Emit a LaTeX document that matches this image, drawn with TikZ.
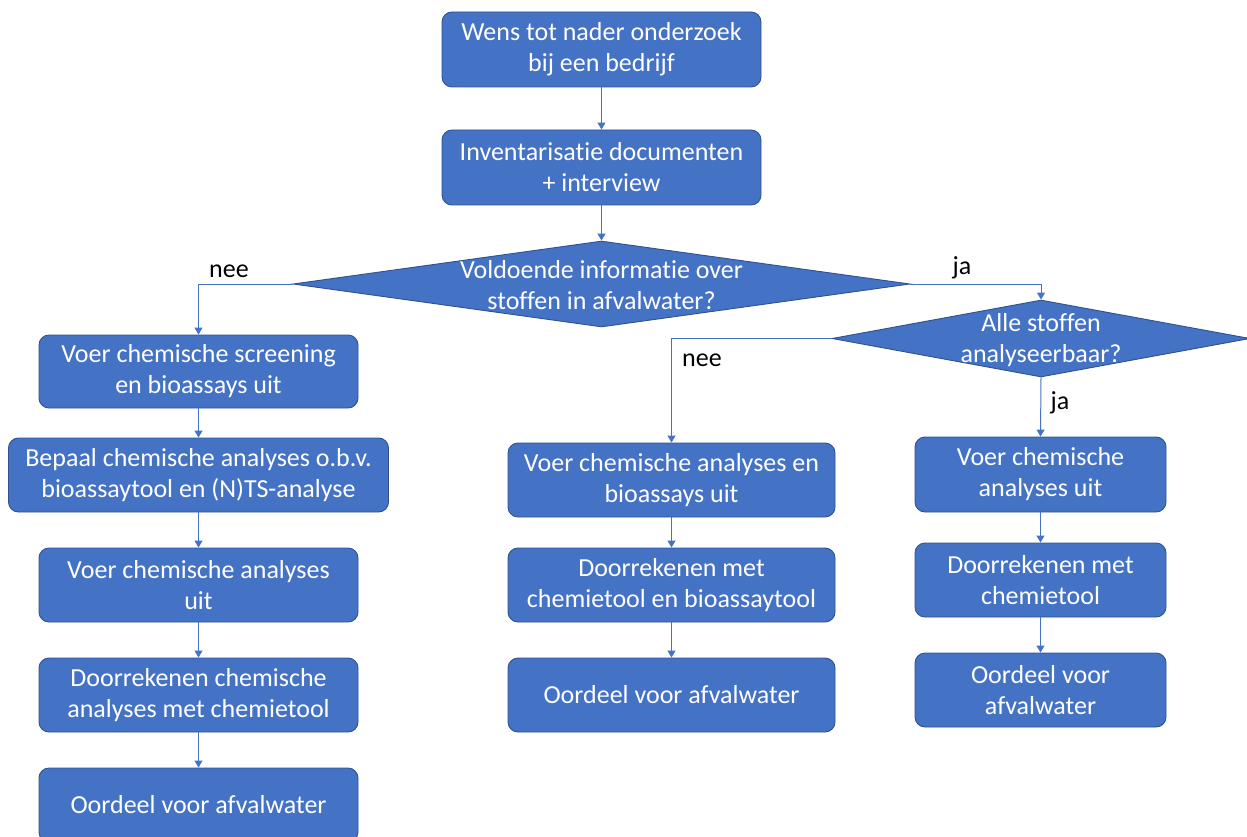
\documentclass[tikz,border=0pt]{standalone}
\usepackage{fontspec}
\setmainfont{Carlito}[Ligatures=NoCommon]
\usetikzlibrary{arrows.meta,shapes.geometric}
\definecolor{boxfill}{HTML}{4472C4}
\definecolor{boxline}{HTML}{2F528F}
\definecolor{conn}{HTML}{4472C4}
\begin{document}
\begin{tikzpicture}[x=1pt,y=-1pt,
  every node/.style={font=\fontsize{26}{31}\selectfont},
  stepbox/.style={draw=boxline, fill=boxfill, line width=0.9pt, rounded corners=10pt,
    text=white, align=center, inner sep=0pt, minimum height=74pt},
  decbox/.style={draw=boxline, fill=boxfill, line width=0.9pt, shape=diamond, inner sep=0pt},
  dectext/.style={text=white, align=center, inner sep=0pt},
  lbl/.style={text=black, inner sep=0pt},
  conn/.style={draw=conn, line width=1pt, -{Triangle[width=8pt,length=7pt]}}
]
\useasboundingbox (0,0) rectangle (1247,837);
% top
\node[stepbox, minimum width=319pt, minimum height=75pt] (b1) at (601.5,49.5) {Wens tot nader onderzoek\\bij een bedrijf};
\node[stepbox, minimum width=319pt, minimum height=75pt] (b2) at (601.5,167.5) {Inventarisatie documenten\\+ interview};
% decision 1
\node[decbox, minimum width=617pt, minimum height=86pt] (d1) at (601.5,284) {};
\node[dectext] (d1t) at (601.5,285) {Voldoende informatie over\\stoffen in afvalwater?};
% decision 2
\node[decbox, minimum width=418pt, minimum height=77pt] (d2) at (1041,338.5) {};
\node[dectext] (d2t) at (1041,340) {Alle stoffen\\analyseerbaar?};
% left column
\node[stepbox, minimum width=319pt, minimum height=73pt] (l1) at (198.5,371.5) {Voer chemische screening\\en bioassays uit};
\node[stepbox, minimum width=380pt] (l2) at (198.5,475) {Bepaal chemische analyses o.b.v.\\bioassaytool en (N)TS-analyse};
\node[stepbox, minimum width=319pt] (l3) at (198.5,585) {Voer chemische analyses\\uit};
\node[stepbox, minimum width=319pt] (l4) at (198.5,695) {Doorrekenen chemische\\analyses met chemietool};
\node[stepbox, minimum width=319pt] (l5) at (198.5,805) {Oordeel voor afvalwater};
% middle column
\node[stepbox, minimum width=327pt] (m1) at (671.5,480) {Voer chemische analyses en\\bioassays uit};
\node[stepbox, minimum width=327pt] (m2) at (671.5,585) {Doorrekenen met\\chemietool en bioassaytool};
\node[stepbox, minimum width=327pt] (m3) at (671.5,695) {Oordeel voor afvalwater};
% right column
\node[stepbox, minimum width=251pt, minimum height=75pt] (r1) at (1040.5,474.5) {Voer chemische\\analyses uit};
\node[stepbox, minimum width=251pt] (r2) at (1040.5,580) {Doorrekenen met\\chemietool};
\node[stepbox, minimum width=251pt] (r3) at (1040.5,690) {Oordeel voor\\afvalwater};
% labels
\node[lbl] (nee1) at (229,271) {nee};
\node[lbl] (ja1) at (962,268) {ja};
\node[lbl] (nee2) at (702,360) {nee};
\node[lbl] (ja2) at (1060,403) {ja};
% connectors
\draw[conn] (b1) -- (b2);
\draw[conn] (b2) -- (d1.north);
\draw[conn] (d1.west) -| (l1.north);
\draw[conn] (d1.east) -| (d2.north);
\draw[conn] (d2.west) -| (m1.north);
\draw[conn] (d2.south) -- (r1.north);
\draw[conn] (l1) -- (l2);
\draw[conn] (l2) -- (l3);
\draw[conn] (l3) -- (l4);
\draw[conn] (l4) -- (l5);
\draw[conn] (m1) -- (m2);
\draw[conn] (m2) -- (m3);
\draw[conn] (r1) -- (r2);
\draw[conn] (r2) -- (r3);
\end{tikzpicture}
\end{document}
